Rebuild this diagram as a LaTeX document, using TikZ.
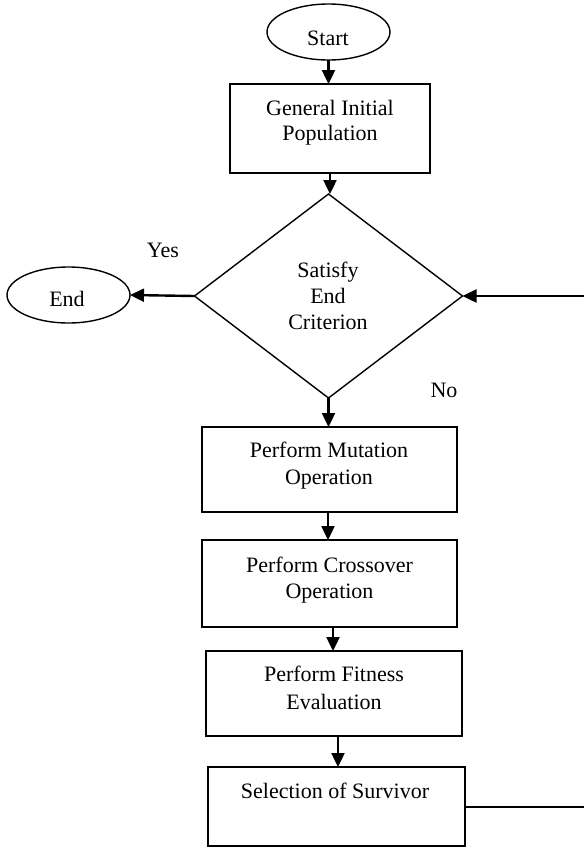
\documentclass[tikz,border=0pt]{standalone}
\usepackage{fontspec}
\setmainfont{Liberation Serif}
\usetikzlibrary{shapes.geometric,arrows.meta}
\begin{document}
\begin{tikzpicture}[x=1pt,y=-1pt,
  every node/.style={inner sep=0pt, outer sep=0pt},
  txt/.style={anchor=base, font=\fontsize{22}{26}\selectfont},
  boxshape/.style={draw, line width=1.4pt, rectangle},
  ovalshape/.style={draw, line width=1.4pt, ellipse, minimum width=123pt, minimum height=56pt},
  decshape/.style={draw, line width=1.4pt, diamond, minimum width=268pt, minimum height=204pt},
  arr/.style={line width=2.4pt, -{Triangle[length=14pt,width=13pt]}},
  plain/.style={line width=1.8pt}
]
\useasboundingbox (0,0) rectangle (584,847);
\fill[white] (0,0) rectangle (584,847);

% shapes
\node[ovalshape] (start) at (328.5,32) {};
\node[boxshape, minimum width=200pt, minimum height=89pt] (gen) at (330,128.5) {};
\node[decshape] (dec) at (328.5,296) {};
\node[ovalshape] (end) at (68.5,295) {};
\node[boxshape, minimum width=255pt, minimum height=85pt] (mut) at (329.5,469.5) {};
\node[boxshape, minimum width=255pt, minimum height=87pt] (cro) at (329.5,583.5) {};
\node[boxshape, minimum width=256pt, minimum height=85pt] (fit) at (334,693.5) {};
\node[boxshape, minimum width=257pt, minimum height=79pt] (sel) at (336.5,806.5) {};

% texts
\node[txt] (startT) at (328,45) {Start};
\node[txt] (genT1) at (330,115) {General Initial};
\node[txt] (genT2) at (330,140) {Population};
\node[txt] (decT1) at (328,277) {Satisfy};
\node[txt] (decT2) at (328,303) {End};
\node[txt] (decT3) at (328,329) {Criterion};
\node[txt] (endT) at (67,306) {End};
\node[txt] (yes) at (163,257) {Yes};
\node[txt] (no) at (444,397) {No};
\node[txt] (mutT1) at (329,457) {Perform Mutation};
\node[txt] (mutT2) at (329,484) {Operation};
\node[txt] (croT1) at (329.5,572) {Perform Crossover};
\node[txt] (croT2) at (329.5,598) {Operation};
\node[txt] (fitT1) at (334,681) {Perform Fitness};
\node[txt] (fitT2) at (334,709) {Evaluation};
\node[txt] (selT) at (335,798) {Selection of Survivor};

% connectors
\coordinate (loopA) at (584,807);
\coordinate (loopB) at (584,296);
\draw[arr] (start.south) -- (start.south |- gen.north);
\draw[arr] (gen.south) -- (gen.south |- dec.north);
\draw[arr] (dec.west) -- (end.east);
\draw[arr] (dec.south) -- (dec.south |- mut.north);
\draw[arr] ([xshift=-1.5pt]mut.south) -- ([xshift=-1.5pt]mut.south |- cro.north);
\draw[arr] ([xshift=-1pt]fit.north |- cro.south) -- ([xshift=-1pt]fit.north);
\draw[arr] ([xshift=1.5pt]sel.north |- fit.south) -- ([xshift=1.5pt]sel.north);
\draw[plain] (sel.east |- loopA) -- (loopA);
\draw[arr] (loopB) -- (dec.east);
\end{tikzpicture}
\end{document}
